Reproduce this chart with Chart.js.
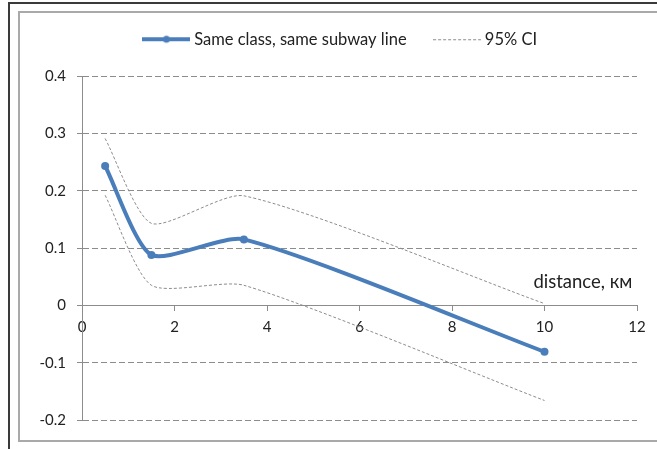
<!DOCTYPE html>
<html>
<head>
<meta charset="utf-8">
<script src="https://cdn.jsdelivr.net/npm/chart.js@4.4.0/dist/chart.umd.min.js"></script>
<style>
  html, body { margin: 0; padding: 0; background: #fff; overflow: hidden; }
  .frame-outer { position: absolute; left: 8px; top: 2px; width: 700px; height: 500px;
    border-top: 2px solid #3a3a3a; border-left: 2px solid #3a3a3a; }
  .frame-inner { position: absolute; left: 18px; top: 11px; width: 700px; height: 431px;
    box-sizing: border-box; border: 2px solid #a9a9a9; }
  #chart { position: absolute; left: 27px; top: 0; }
</style>
</head>
<body>
<div class="frame-outer"></div>
<div class="frame-inner"></div>
<canvas id="chart" width="630" height="449"></canvas>
<script>
// values
const distances = [0.5, 1.5, 3.5, 10];
const sameLine = [0.243, 0.088, 0.115, -0.081];
const ciUpper = [0.291, 0.143, 0.191, 0.003];
const ciLower = [0.192, 0.035, 0.035, -0.166];
const seriesNames = ['Same class, same subway line', '95% CI'];
const xRange = [0, 12];
const xStep = 2;
const yRange = [-0.2, 0.4];
const yStep = 0.1;
const axisTitle = 'distance, км';
const axisTitleAt = [10.83, 0.04];

const blue = '#4a7ebb';
const grey = '#8c8c8c';
const textColor = '#222';
const smoothing = 0.22;

Chart.defaults.font.family = 'Lato';
Chart.defaults.font.size = 15;
Chart.defaults.color = textColor;

const toPoints = (ys) => distances.map((x, i) => ({ x: x, y: ys[i] }));

function legendIcon(draw) {
  const c = document.createElement('canvas');
  c.width = 48;
  c.height = 12;
  draw(c.getContext('2d'));
  return c;
}
const mainIcon = legendIcon(g => {
  g.strokeStyle = blue;
  g.lineWidth = 4;
  g.beginPath(); g.moveTo(0, 6); g.lineTo(48, 6); g.stroke();
  g.fillStyle = blue;
  g.beginPath(); g.arc(24, 6, 3.5, 0, Math.PI * 2); g.fill();
});
const ciIcon = legendIcon(g => {
  g.strokeStyle = grey;
  g.lineWidth = 1;
  g.setLineDash([3, 2]);
  g.beginPath(); g.moveTo(0, 6.5); g.lineTo(48, 6.5); g.stroke();
});

const titlePlugin = {
  id: 'axisTitle',
  afterDraw(chart) {
    const { ctx, scales } = chart;
    ctx.save();
    ctx.font = '18.5px Lato';
    ctx.fillStyle = textColor;
    ctx.textAlign = 'center';
    ctx.textBaseline = 'middle';
    ctx.fillText(axisTitle, scales.x.getPixelForValue(axisTitleAt[0]), scales.y.getPixelForValue(axisTitleAt[1]));
    ctx.restore();
  }
};

const ciStyle = {
  showLine: true,
  borderColor: grey,
  borderWidth: 1,
  borderDash: [3, 2],
  pointRadius: 0,
  tension: smoothing,
  fill: false
};

new Chart(document.getElementById('chart'), {
  type: 'scatter',
  data: {
    datasets: [
      {
        label: seriesNames[0],
        data: toPoints(sameLine),
        showLine: true,
        borderColor: blue,
        backgroundColor: blue,
        borderWidth: 4,
        pointRadius: 4,
        pointBorderWidth: 0,
        tension: smoothing
      },
      Object.assign({ label: seriesNames[1], data: toPoints(ciUpper) }, ciStyle),
      Object.assign({ label: seriesNames[1], data: toPoints(ciLower) }, ciStyle)
    ]
  },
  options: {
    responsive: false,
    animation: false,
    layout: { padding: { top: 0, left: 0, right: 0, bottom: 29 } },
    plugins: {
      tooltip: { enabled: false },
      legend: {
        position: 'top',
        labels: {
          font: { size: 16.5 },
          usePointStyle: true,
          pointStyleWidth: 39,
          padding: 31,
          color: textColor,
          filter: (item) => item.datasetIndex !== 2,
          generateLabels: (chart) =>
            Chart.defaults.plugins.legend.labels.generateLabels(chart).map(item => {
              item.pointStyle = item.datasetIndex === 0 ? mainIcon : ciIcon;
              return item;
            })
        }
      }
    },
    scales: {
      x: {
        type: 'linear',
        position: { y: 0 },
        min: xRange[0],
        max: xRange[1],
        ticks: { stepSize: xStep, padding: 8, color: textColor },
        grid: { drawOnChartArea: false, drawTicks: true, tickLength: 5, tickColor: grey },
        border: { display: true, color: grey, width: 1 }
      },
      xTop: {
        type: 'linear',
        position: 'top',
        display: true,
        ticks: { display: false },
        grid: { display: false },
        border: { display: false },
        afterFit: (s) => { s.height = 18.5; }
      },
      y: {
        type: 'linear',
        position: 'left',
        min: yRange[0],
        max: yRange[1],
        ticks: {
          stepSize: yStep,
          padding: 11,
          color: textColor,
          callback: (v) => String(Math.round(v * 10) / 10)
        },
        grid: {
          color: (c) => Math.abs(c.tick.value) < 1e-9 ? 'rgba(0,0,0,0)' : grey,
          tickColor: grey,
          tickLength: 5,
          lineWidth: 1
        },
        border: { display: true, color: grey, width: 1, dash: [6, 3] },
        afterFit: (s) => { s.width = 55; }
      },
      yRight: {
        type: 'linear',
        position: 'right',
        display: true,
        ticks: { display: false },
        grid: { display: false },
        border: { display: false },
        afterFit: (s) => { s.width = 20; }
      }
    }
  },
  plugins: [titlePlugin]
});
</script>
</body>
</html>
